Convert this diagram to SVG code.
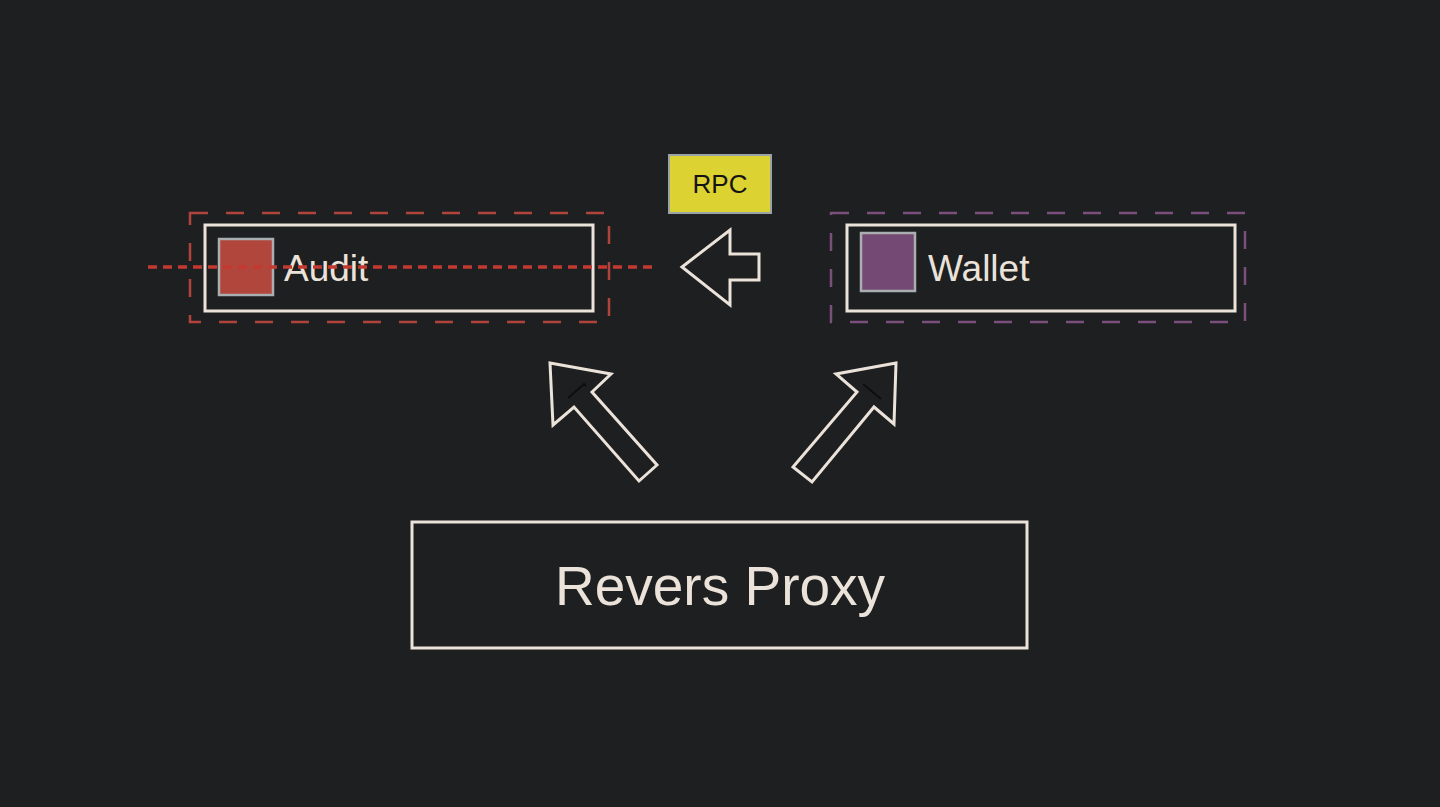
<svg xmlns="http://www.w3.org/2000/svg" width="1440" height="807" viewBox="0 0 1440 807">
<style>
.box{fill:none;stroke:#ebe3da;stroke-width:3}
.arrow{fill:#1e1f21;stroke:#ebe3da;stroke-width:3;stroke-linejoin:miter}
.lbl{font-family:"Liberation Sans",Arial,sans-serif;fill:#ebe3da}
.mark{fill:none;stroke:#0e0e0f;stroke-width:2}
</style>
<rect x="0" y="0" width="1440" height="807" fill="#1e1f21"/>
<g id="audit">
<rect x="190" y="213" width="419" height="109" fill="none" stroke="#b0443c" stroke-width="2.5" stroke-dasharray="18 18"/>
<rect class="box" x="205" y="225" width="388" height="86"/>
<rect x="219" y="239" width="54" height="56" fill="#b0463c" stroke="#a9aeb0" stroke-width="2.5"/>
<text class="lbl" x="284" y="281" font-size="37">Audit</text>
</g>
<g id="wallet">
<rect x="831" y="213" width="414" height="109" fill="none" stroke="#7b4f7d" stroke-width="2.5" stroke-dasharray="18 18"/>
<rect class="box" x="847" y="225" width="388" height="86"/>
<rect x="861" y="233" width="54" height="58" fill="#744a74" stroke="#a9aeb0" stroke-width="2.5"/>
<text class="lbl" x="928" y="281" font-size="37">Wallet</text>
</g>
<g id="rpc">
<rect x="669" y="155" width="102" height="58" fill="#dcd232" stroke="#9aa3a8" stroke-width="2"/>
<text x="720" y="193" font-size="26" text-anchor="middle" font-family="'Liberation Sans',Arial,sans-serif" fill="#141414">RPC</text>
</g>
<g id="revers-proxy">
<rect class="box" x="412" y="522" width="615" height="126"/>
<text class="lbl" x="720" y="605" font-size="55" text-anchor="middle">Revers Proxy</text>
</g>
<g id="connectors">
<line x1="148" y1="267" x2="652" y2="267" stroke="#c23a30" stroke-width="3.5" stroke-dasharray="9 6"/>
<polygon class="arrow" points="682,267 730,230 730,254 759,254 759,280 730,280 730,305"/>
<polygon class="arrow" points="550,363 611,374 592,392 657,465 639,481 574,407 553,425"/>
<polyline class="mark" points="568,398 584,384 586,386"/>
<polygon class="arrow" points="896,363 836,374 857,392 793,467 812,482 874,407 894,424"/>
<polyline class="mark" points="863,384 881,399"/>
</g>
</svg>
